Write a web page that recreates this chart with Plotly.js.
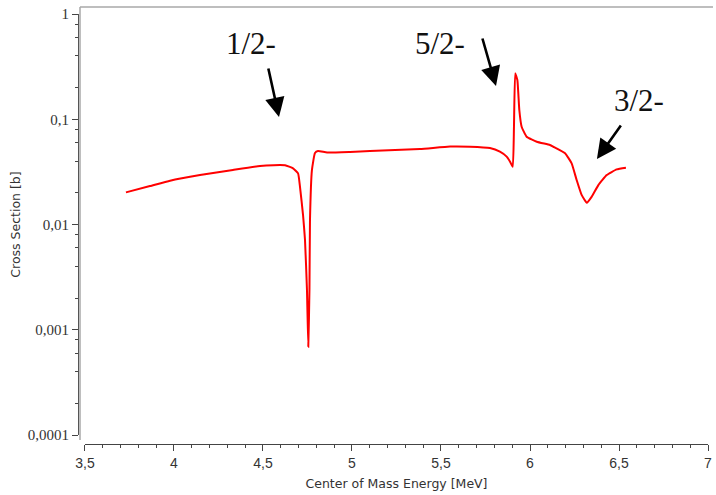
<!DOCTYPE html>
<html>
<head>
<meta charset="utf-8">
<script src="https://cdn.plot.ly/plotly-3.0.1.min.js"></script>
<style>html,body{margin:0;padding:0;background:#fff;}#chart{width:716px;height:495px;}</style>
</head>
<body>
<div id="chart"></div>
<script>
// Center-of-mass energy [MeV]
var energy = [3.730, 3.865, 3.978, 4.146, 4.331, 4.483, 4.560, 4.624, 4.669, 4.697, 4.708, 4.725, 4.736, 4.747, 4.7545, 4.761, 4.764, 4.775, 4.792, 4.809, 4.860, 4.989, 5.101, 5.382, 5.551, 5.663, 5.775, 5.831, 5.869, 5.888, 5.903, 5.910, 5.917, 5.929, 5.940, 5.953, 5.981, 6.038, 6.112, 6.131, 6.197, 6.234, 6.262, 6.290, 6.319, 6.347, 6.384, 6.431, 6.487, 6.539];
// Cross section [b]
var crossSection = [0.0202, 0.0232, 0.0261, 0.0295, 0.0330, 0.0360, 0.0366, 0.0365, 0.0342, 0.0306, 0.0227, 0.0123, 0.00713, 0.0024, 0.00069, 0.0024, 0.011, 0.033, 0.0478, 0.0499, 0.0483, 0.0489, 0.0499, 0.0522, 0.0551, 0.0549, 0.0533, 0.0492, 0.0441, 0.0395, 0.0354, 0.0849, 0.273, 0.236, 0.1225, 0.0849, 0.0683, 0.0612, 0.0569, 0.0548, 0.0475, 0.0381, 0.0265, 0.0191, 0.0161, 0.0184, 0.0237, 0.0295, 0.0334, 0.0347];

var yTickVals = [1, 0.1, 0.01, 0.001, 0.0001];
var yTickText = ["1", "0,1", "0,01", "0,001", "0,0001"];
var xTickVals = [3.5, 4, 4.5, 5, 5.5, 6, 6.5, 7];
var xTickText = ["3,5", "4", "4,5", "5", "5,5", "6", "6,5", "7"];

// Resonance labels: text, label position, arrow tip
var resLabels = ["1/2-", "5/2-", "3/2-"];
var labelX = [4.433, 5.494, 6.612];
var labelY = [0.525, 0.519, 0.152];
var arrowX = [4.590, 5.809, 6.376];
var arrowY = [0.105, 0.207, 0.0419];
var arrowAx = [-11, -14, 25];
var arrowAy = [-50, -49, -35];

var yMinor = [];
for (var k = -4; k < 0; k++) {
  [2, 4, 6, 8].forEach(function (m) { yMinor.push(m * Math.pow(10, k)); });
}

var annotations = [];
for (var i = 0; i < resLabels.length; i++) {
  annotations.push({
    x: labelX[i], y: Math.log10(labelY[i]), xref: 'x', yref: 'y',
    text: resLabels[i], showarrow: false,
    font: {family: 'Liberation Serif, serif', size: 31, color: '#111'},
    xanchor: 'center', yanchor: 'middle'
  });
  annotations.push({
    x: arrowX[i], y: Math.log10(arrowY[i]), xref: 'x', yref: 'y',
    text: '', showarrow: true, ax: arrowAx[i], ay: arrowAy[i],
    arrowhead: 2, arrowsize: 1.5, arrowwidth: 2.6, arrowcolor: '#000', standoff: 0
  });
}

var trace = {
  x: energy, y: crossSection, type: 'scatter', mode: 'lines',
  line: {color: '#ff0000', width: 2, shape: 'spline', smoothing: 0.4},
  hoverinfo: 'skip'
};

var layout = {
  width: 716, height: 495,
  margin: {l: 78, r: 8, t: 14, b: 51, pad: 0},
  paper_bgcolor: '#fff', plot_bgcolor: '#fff',
  showlegend: false,
  xaxis: {
    domain: [0.0111, 1], range: [3.5, 7], anchor: 'free', position: 0,
    tickmode: 'array', tickvals: xTickVals, ticktext: xTickText,
    ticks: 'outside', ticklen: 6, tickwidth: 1, tickcolor: '#444',
    minor: {dtick: 0.1, ticks: 'outside', ticklen: 3, tickwidth: 1, tickcolor: '#444'},
    showline: true, linecolor: '#444', linewidth: 1,
    showgrid: false, zeroline: false,
    tickfont: {family: 'Liberation Sans, sans-serif', size: 14, color: '#333'},
    title: {text: 'Center of Mass Energy [MeV]', standoff: 9,
            font: {family: 'DejaVu Sans, sans-serif', size: 12.5, color: '#333'}}
  },
  yaxis: {
    type: 'log', domain: [0.0209, 1], range: [-4, 0], anchor: 'free', position: 0,
    tickmode: 'array', tickvals: yTickVals, ticktext: yTickText,
    ticks: 'outside', ticklen: 6, tickwidth: 1, tickcolor: '#444',
    minor: {tickmode: 'array', tickvals: yMinor, ticks: 'outside', ticklen: 3, tickwidth: 1, tickcolor: '#444'},
    showline: true, linecolor: '#555', linewidth: 1,
    showgrid: false, zeroline: false,
    tickfont: {family: 'Liberation Serif, serif', size: 15, color: '#333'},
    title: {text: 'Cross Section [b]', standoff: 3,
            font: {family: 'DejaVu Sans, sans-serif', size: 12.5, color: '#333'}}
  },
  shapes: [
    {type: 'line', xref: 'paper', yref: 'paper', x0: 0.00317, x1: 0.00317, y0: 0.0093, y1: 1.0163,
     line: {color: '#a8a8a8', width: 1.5}},
    {type: 'line', xref: 'paper', yref: 'paper', x0: 0.00317, x1: 1.0079, y0: 1.0163, y1: 1.0163,
     line: {color: '#a8a8a8', width: 1.5}}
  ],
  annotations: annotations
};

Plotly.newPlot('chart', [trace], layout, {staticPlot: true, displayModeBar: false});
</script>
</body>
</html>
